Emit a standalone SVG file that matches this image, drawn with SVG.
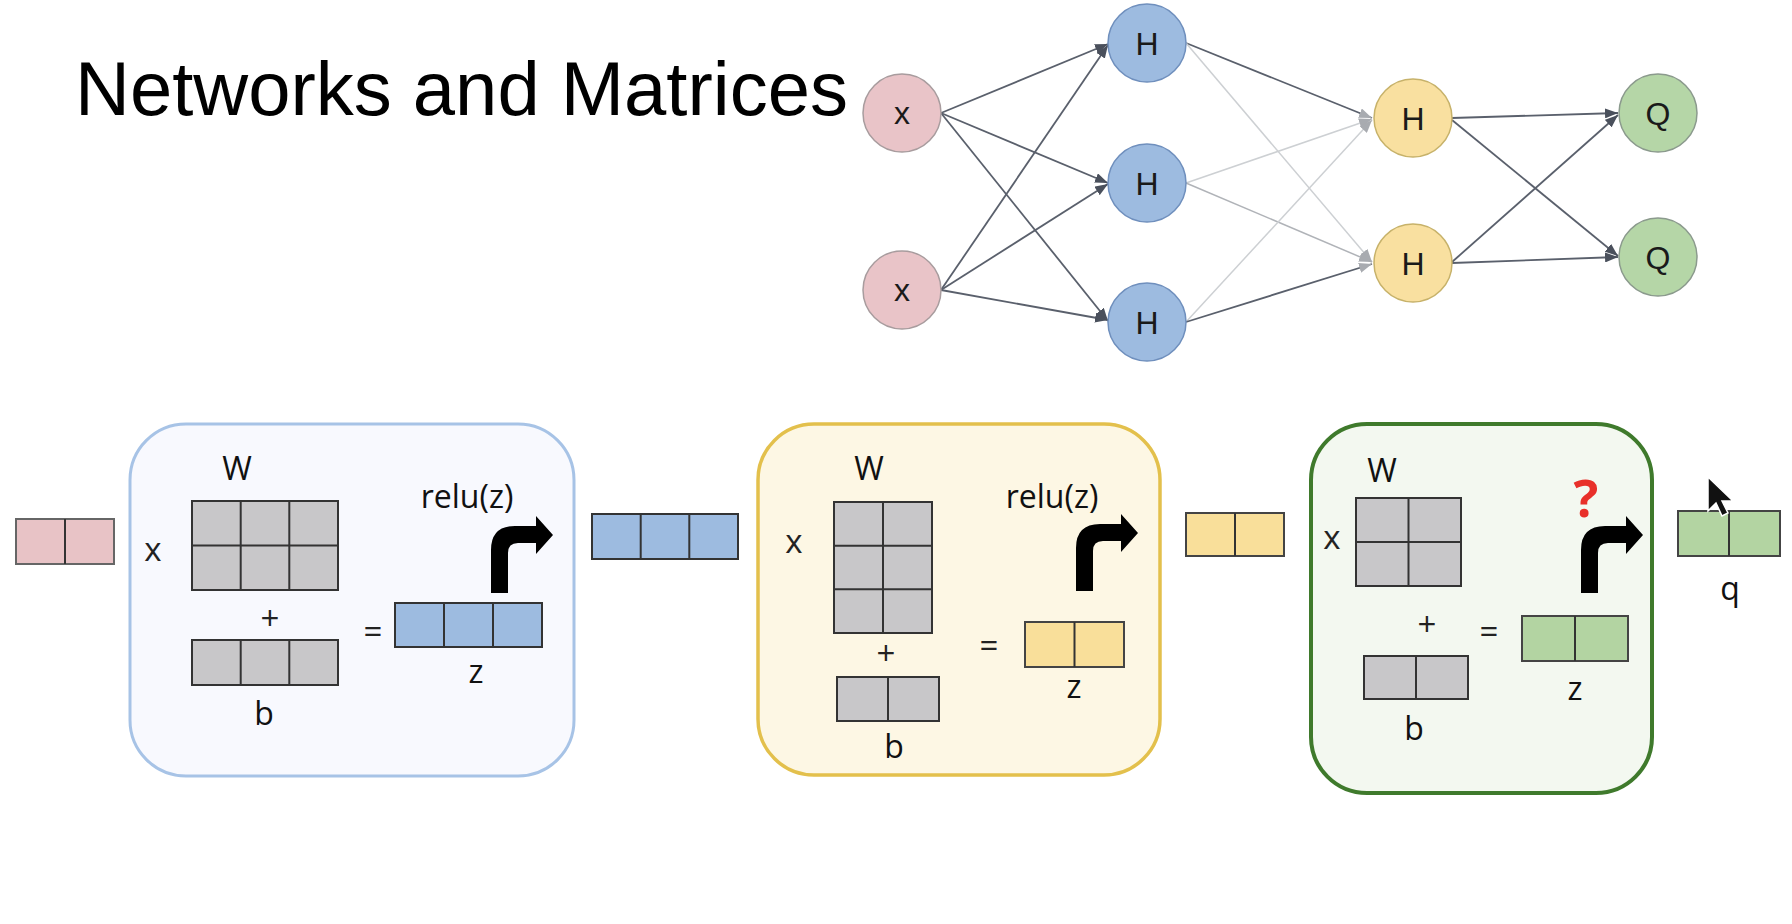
<svg xmlns="http://www.w3.org/2000/svg" width="1792" height="924" viewBox="0 0 1792 924">
<defs>
<style>
.title{font-family:"Liberation Sans",Arial,sans-serif;font-size:76px;fill:#000}
.nt{font-family:"Liberation Sans",Arial,sans-serif;font-size:32px;fill:#1a1a1a;text-anchor:middle;dominant-baseline:central}
.lbl{font-family:"Open Sans","Liberation Sans",sans-serif;font-size:32px;fill:#111;text-anchor:middle}
.op{font-family:"Open Sans","Liberation Sans",sans-serif;font-size:33px;fill:#222;text-anchor:middle;dominant-baseline:central}
.pink{fill:#e8c3c6;stroke:#666;stroke-width:2}
.blue{fill:#9dbbe0;stroke:#333;stroke-width:2}
.yel{fill:#f9df9a;stroke:#444;stroke-width:2}
.grn{fill:#b3d4a2;stroke:#444;stroke-width:2}
.gry{fill:#c8c7c9;stroke:#333;stroke-width:2}
.cl{stroke:#333;stroke-width:2;fill:none}
.dark{stroke:#5a606c;stroke-width:1.8;fill:none}
.light{stroke:#cdd0d3;stroke-width:1.5;fill:none}
.mid{stroke:#b0b3b8;stroke-width:1.5;fill:none}
</style>
<marker id="ad" markerUnits="userSpaceOnUse" markerWidth="14" markerHeight="10" refX="13" refY="5" orient="auto"><path d="M0,0 L13,5 L0,10 Z" fill="#4a505c"/></marker>
<marker id="al" markerUnits="userSpaceOnUse" markerWidth="14" markerHeight="10" refX="13" refY="5" orient="auto"><path d="M0,0 L13,5 L0,10 Z" fill="#a8abb0"/></marker>
<path id="bentArrow" d="M0,70 L0,27 Q0,3 24,3 L45,3 L45,-7 L62,12 L45,31 L45,20 L27,20 Q17,20 17,30 L17,70 Z"/>
</defs>
<rect width="1792" height="924" fill="#ffffff"/>
<text class="title" x="75" y="115">Networks and Matrices</text>

<g id="connectors">
<line class="dark" x1="941" y1="113" x2="1108" y2="44" marker-end="url(#ad)"/>
<line class="dark" x1="941" y1="113" x2="1108" y2="183" marker-end="url(#ad)"/>
<line class="dark" x1="941" y1="113" x2="1108" y2="321" marker-end="url(#ad)"/>
<line class="dark" x1="941" y1="290" x2="1108" y2="45" marker-end="url(#ad)"/>
<line class="dark" x1="941" y1="290" x2="1108" y2="184" marker-end="url(#ad)"/>
<line class="dark" x1="941" y1="290" x2="1108" y2="320" marker-end="url(#ad)"/>
<line class="dark" x1="1186" y1="43" x2="1372" y2="118" marker-end="url(#al)"/>
<line class="light" x1="1186" y1="43" x2="1372" y2="262" marker-end="url(#al)"/>
<line class="light" x1="1186" y1="183" x2="1372" y2="119" marker-end="url(#al)"/>
<line class="mid" x1="1186" y1="183" x2="1372" y2="262" marker-end="url(#al)"/>
<line class="light" x1="1186" y1="322" x2="1372" y2="120" marker-end="url(#al)"/>
<line class="dark" x1="1186" y1="322" x2="1372" y2="264" marker-end="url(#al)"/>
<line class="dark" x1="1452" y1="118" x2="1618" y2="113" marker-end="url(#ad)"/>
<line class="dark" x1="1452" y1="120" x2="1618" y2="256" marker-end="url(#ad)"/>
<line class="dark" x1="1452" y1="262" x2="1618" y2="115" marker-end="url(#ad)"/>
<line class="dark" x1="1452" y1="263" x2="1618" y2="257" marker-end="url(#ad)"/>
</g>

<g id="x1"><circle cx="902" cy="113" r="39" fill="#e9c4c8" stroke="#a89c9e" stroke-width="1.5"/><text class="nt" x="902" y="113">x</text></g>
<g id="x2"><circle cx="902" cy="290" r="39" fill="#e9c4c8" stroke="#a89c9e" stroke-width="1.5"/><text class="nt" x="902" y="290">x</text></g>
<g id="h1"><circle cx="1147" cy="43" r="39" fill="#9dbbe0" stroke="#6f8fbd" stroke-width="1.5"/><text class="nt" x="1147" y="44">H</text></g>
<g id="h2"><circle cx="1147" cy="183" r="39" fill="#9dbbe0" stroke="#6f8fbd" stroke-width="1.5"/><text class="nt" x="1147" y="184">H</text></g>
<g id="h3"><circle cx="1147" cy="322" r="39" fill="#9dbbe0" stroke="#6f8fbd" stroke-width="1.5"/><text class="nt" x="1147" y="323">H</text></g>
<g id="y1"><circle cx="1413" cy="118" r="39" fill="#f9e0a0" stroke="#c7b26a" stroke-width="1.5"/><text class="nt" x="1413" y="119">H</text></g>
<g id="y2"><circle cx="1413" cy="263" r="39" fill="#f9e0a0" stroke="#c7b26a" stroke-width="1.5"/><text class="nt" x="1413" y="264">H</text></g>
<g id="q1"><circle cx="1658" cy="113" r="39" fill="#b5d6a7" stroke="#8b9a8d" stroke-width="1.5"/><text class="nt" x="1658" y="114">Q</text></g>
<g id="q2"><circle cx="1658" cy="257" r="39" fill="#b5d6a7" stroke="#8b9a8d" stroke-width="1.5"/><text class="nt" x="1658" y="258">Q</text></g>

<g id="input">
<rect class="pink" x="16" y="519" width="98" height="45"/>
<line class="cl" x1="65" y1="519" x2="65" y2="564"/>
</g>

<g id="layer1">
<rect x="130" y="424" width="444" height="352" rx="56" fill="#f8f9fe" stroke="#a7c3e6" stroke-width="3"/>
<text class="lbl" x="237" y="480">W</text>
<text class="op" x="153" y="548">x</text>
<rect class="gry" x="192" y="501" width="146" height="89"/>
<line class="cl" x1="240.7" y1="501" x2="240.7" y2="590"/>
<line class="cl" x1="289.3" y1="501" x2="289.3" y2="590"/>
<line class="cl" x1="192" y1="545.5" x2="338" y2="545.5"/>
<text class="op" x="270" y="617">+</text>
<rect class="gry" x="192" y="640" width="146" height="45"/>
<line class="cl" x1="240.7" y1="640" x2="240.7" y2="685"/>
<line class="cl" x1="289.3" y1="640" x2="289.3" y2="685"/>
<text class="lbl" x="264" y="725">b</text>
<text class="op" x="373" y="630">=</text>
<rect class="blue" x="395" y="603" width="147" height="44"/>
<line class="cl" x1="444" y1="603" x2="444" y2="647"/>
<line class="cl" x1="493" y1="603" x2="493" y2="647"/>
<text class="lbl" x="476" y="683">z</text>
<text class="lbl" x="467" y="508">relu(z)</text>
<use href="#bentArrow" x="491" y="523"/>
</g>

<g id="hidden1">
<rect class="blue" x="592" y="514" width="146" height="45"/>
<line class="cl" x1="640.7" y1="514" x2="640.7" y2="559"/>
<line class="cl" x1="689.3" y1="514" x2="689.3" y2="559"/>
</g>

<g id="layer2">
<rect x="758" y="424" width="402" height="351" rx="56" fill="#fdf7e4" stroke="#e3c04c" stroke-width="3.5"/>
<text class="lbl" x="869" y="480">W</text>
<text class="op" x="794" y="540">x</text>
<rect class="gry" x="834" y="502" width="98" height="131"/>
<line class="cl" x1="883" y1="502" x2="883" y2="633"/>
<line class="cl" x1="834" y1="545.7" x2="932" y2="545.7"/>
<line class="cl" x1="834" y1="589.3" x2="932" y2="589.3"/>
<text class="op" x="886" y="652">+</text>
<rect class="gry" x="837" y="677" width="102" height="44"/>
<line class="cl" x1="888" y1="677" x2="888" y2="721"/>
<text class="lbl" x="894" y="758">b</text>
<text class="op" x="989" y="644">=</text>
<rect class="yel" x="1025" y="622" width="99" height="45"/>
<line class="cl" x1="1074.5" y1="622" x2="1074.5" y2="667"/>
<text class="lbl" x="1074" y="698">z</text>
<text class="lbl" x="1052" y="508">relu(z)</text>
<use href="#bentArrow" x="1076" y="521"/>
</g>

<g id="hidden2">
<rect class="yel" x="1186" y="513" width="98" height="43"/>
<line class="cl" x1="1235" y1="513" x2="1235" y2="556"/>
</g>

<g id="layer3">
<rect x="1311" y="424" width="341" height="369" rx="56" fill="#f3f8f0" stroke="#3f7a2c" stroke-width="4"/>
<text class="lbl" x="1382" y="482">W</text>
<text class="op" x="1332" y="536">x</text>
<rect class="gry" x="1356" y="498" width="105" height="88"/>
<line class="cl" x1="1408.5" y1="498" x2="1408.5" y2="586"/>
<line class="cl" x1="1356" y1="542" x2="1461" y2="542"/>
<text class="op" x="1427" y="623">+</text>
<rect class="gry" x="1364" y="656" width="104" height="43"/>
<line class="cl" x1="1416" y1="656" x2="1416" y2="699"/>
<text class="lbl" x="1414" y="740">b</text>
<text class="op" x="1489" y="630">=</text>
<rect class="grn" x="1522" y="616" width="106" height="45"/>
<line class="cl" x1="1575" y1="616" x2="1575" y2="661"/>
<text class="lbl" x="1575" y="700">z</text>
<text x="1586" y="517" font-family="'Open Sans','Liberation Sans',sans-serif" font-size="52" font-weight="bold" fill="#e8302a" text-anchor="middle">?</text>
<use href="#bentArrow" x="1581" y="523"/>
</g>

<g id="output">
<rect class="grn" x="1678" y="511" width="102" height="45"/>
<line class="cl" x1="1729" y1="511" x2="1729" y2="556"/>
<text class="lbl" x="1730" y="600">q</text>
</g>

<path d="M1708,477 L1708,511 L1716,503 L1722,516 L1728,513 L1722,501 L1733,501 Z" fill="#111" stroke="#fff" stroke-width="1.5"/>
</svg>
